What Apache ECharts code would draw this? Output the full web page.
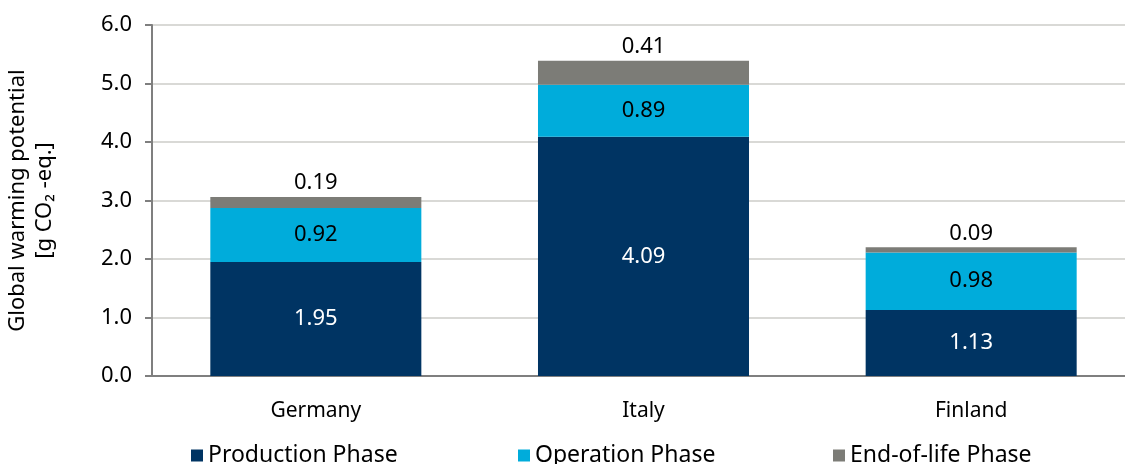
<!DOCTYPE html>
<html>
<head>
<meta charset="utf-8">
<script src="https://cdn.jsdelivr.net/npm/echarts@6/dist/echarts.min.js"></script>
<style>
html,body{margin:0;padding:0;background:#fff;}
#chart{width:1125px;height:464px;}
</style>
</head>
<body>
<div id="chart"></div>
<script>
var categories = ['Germany', 'Italy', 'Finland'];
var production = [1.95, 4.09, 1.13];
var operation = [0.92, 0.89, 0.98];
var endOfLife = [0.19, 0.41, 0.09];
var seriesNames = ['Production Phase', 'Operation Phase', 'End-of-life Phase'];
var yTicks = [0, 1, 2, 3, 4, 5, 6];

var FONT = '"Noto Sans", "Open Sans", sans-serif';
var colors = ['#003463', '#00acdb', '#7c7c77'];

var chart = echarts.init(document.getElementById('chart'));
function legendAt(i, left) {
  return {
    data: [seriesNames[i]],
    left: left, top: 439,
    icon: 'rect', itemWidth: 12, itemHeight: 12, itemGap: 8,
    textStyle: {fontFamily: FONT, fontSize: 23, color: '#000'}
  };
}
chart.setOption({
  animation: false,
  backgroundColor: '#fff',
  textStyle: {fontFamily: FONT},
  grid: {left: 152, top: 25, width: 983, height: 351, containLabel: false, outerBoundsMode: 'none'},
  legend: [legendAt(0, 186), legendAt(1, 513), legendAt(2, 828)],
  xAxis: {
    type: 'category',
    data: categories,
    axisLine: {lineStyle: {color: '#7f7f7f', width: 2}},
    axisTick: {show: false},
    axisLabel: {fontFamily: FONT, fontSize: 21, color: '#000', margin: 25}
  },
  yAxis: {
    type: 'value',
    min: yTicks[0], max: yTicks[yTicks.length - 1], interval: 1,
    name: 'Global warming potential\n[g CO₂ -eq.]',
    nameLocation: 'middle', nameRotate: 90, nameGap: 94, nameMoveOverlap: false,
    nameTextStyle: {fontFamily: FONT, fontSize: 22, color: '#000', lineHeight: 27},
    axisLine: {show: true, lineStyle: {color: '#7f7f7f', width: 2}},
    axisTick: {show: true, length: 7, lineStyle: {color: '#7f7f7f', width: 2}},
    splitLine: {lineStyle: {color: '#d9d9d6', width: 2}},
    axisLabel: {fontFamily: FONT, fontSize: 22, color: '#000', margin: 20,
      formatter: function (v) { return v.toFixed(1); }}
  },
  series: [
    {name: seriesNames[0], type: 'bar', stack: 't', data: production, barCategoryGap: '35.6%',
     itemStyle: {color: colors[0]},
     label: {show: true, position: 'inside', color: '#fff', fontFamily: FONT, fontSize: 22,
       formatter: function (p) { return p.value.toFixed(2); }}},
    {name: seriesNames[1], type: 'bar', stack: 't', data: operation,
     itemStyle: {color: colors[1]},
     label: {show: true, position: 'inside', color: '#000', fontFamily: FONT, fontSize: 22,
       formatter: function (p) { return p.value.toFixed(2); }}},
    {name: seriesNames[2], type: 'bar', stack: 't', data: endOfLife,
     itemStyle: {color: colors[2]},
     label: {show: true, position: 'top', distance: 3, color: '#000', fontFamily: FONT, fontSize: 22,
       formatter: function (p) { return p.value.toFixed(2); }}}
  ]
});
</script>
</body>
</html>
